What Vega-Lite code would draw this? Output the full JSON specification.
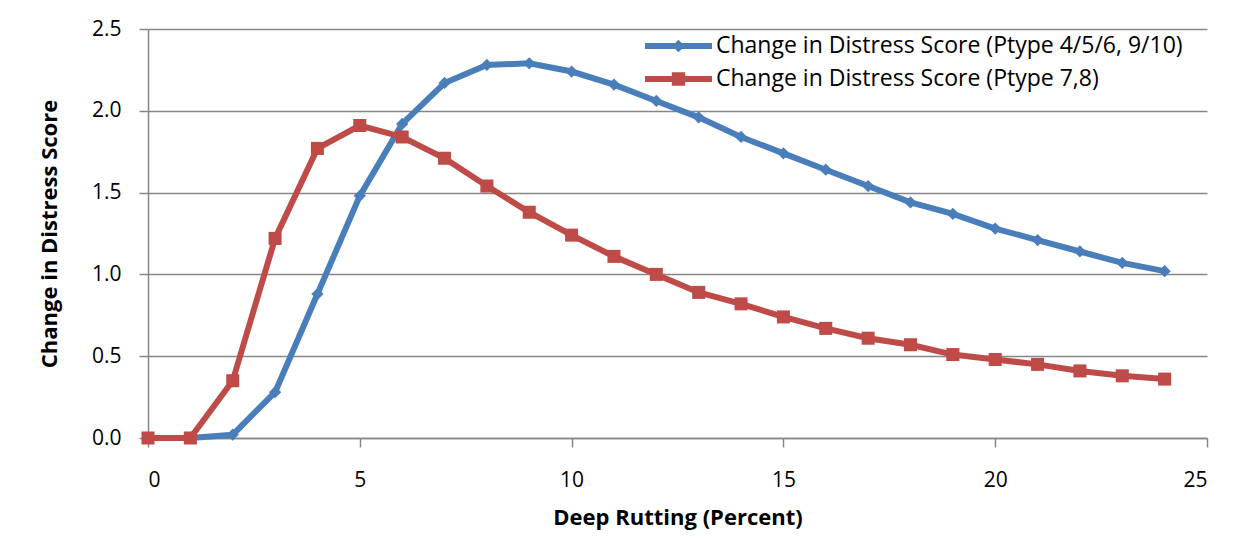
{
  "$schema": "https://vega.github.io/schema/vega-lite/v6.json",
  "width": 1059,
  "height": 409,
  "autosize": {"type": "none"},
  "padding": {"left": 148, "top": 29, "right": 47, "bottom": 100},
  "background": "white",
  "config": {
    "view": {"stroke": null},
    "font": "Open Sans",
    "axis": {
      "labelFont": "Open Sans",
      "labelFontSize": 21,
      "labelColor": "#000000",
      "titleFont": "Open Sans",
      "titleFontSize": 22,
      "titleFontWeight": "bold",
      "titleColor": "#000000",
      "domainColor": "#868686",
      "domainWidth": 1.5,
      "tickColor": "#868686",
      "tickWidth": 1.5,
      "tickSize": 9,
      "gridColor": "#868686",
      "gridWidth": 1.5,
      "gridOpacity": 1
    }
  },
  "datasets": {
    "scores": [
      {"rutting": 0, "score": 0.0, "series": "Change in Distress Score (Ptype 4/5/6, 9/10)"},
      {"rutting": 1, "score": 0.0, "series": "Change in Distress Score (Ptype 4/5/6, 9/10)"},
      {"rutting": 2, "score": 0.02, "series": "Change in Distress Score (Ptype 4/5/6, 9/10)"},
      {"rutting": 3, "score": 0.28, "series": "Change in Distress Score (Ptype 4/5/6, 9/10)"},
      {"rutting": 4, "score": 0.88, "series": "Change in Distress Score (Ptype 4/5/6, 9/10)"},
      {"rutting": 5, "score": 1.48, "series": "Change in Distress Score (Ptype 4/5/6, 9/10)"},
      {"rutting": 6, "score": 1.92, "series": "Change in Distress Score (Ptype 4/5/6, 9/10)"},
      {"rutting": 7, "score": 2.17, "series": "Change in Distress Score (Ptype 4/5/6, 9/10)"},
      {"rutting": 8, "score": 2.28, "series": "Change in Distress Score (Ptype 4/5/6, 9/10)"},
      {"rutting": 9, "score": 2.29, "series": "Change in Distress Score (Ptype 4/5/6, 9/10)"},
      {"rutting": 10, "score": 2.24, "series": "Change in Distress Score (Ptype 4/5/6, 9/10)"},
      {"rutting": 11, "score": 2.16, "series": "Change in Distress Score (Ptype 4/5/6, 9/10)"},
      {"rutting": 12, "score": 2.06, "series": "Change in Distress Score (Ptype 4/5/6, 9/10)"},
      {"rutting": 13, "score": 1.96, "series": "Change in Distress Score (Ptype 4/5/6, 9/10)"},
      {"rutting": 14, "score": 1.84, "series": "Change in Distress Score (Ptype 4/5/6, 9/10)"},
      {"rutting": 15, "score": 1.74, "series": "Change in Distress Score (Ptype 4/5/6, 9/10)"},
      {"rutting": 16, "score": 1.64, "series": "Change in Distress Score (Ptype 4/5/6, 9/10)"},
      {"rutting": 17, "score": 1.54, "series": "Change in Distress Score (Ptype 4/5/6, 9/10)"},
      {"rutting": 18, "score": 1.44, "series": "Change in Distress Score (Ptype 4/5/6, 9/10)"},
      {"rutting": 19, "score": 1.37, "series": "Change in Distress Score (Ptype 4/5/6, 9/10)"},
      {"rutting": 20, "score": 1.28, "series": "Change in Distress Score (Ptype 4/5/6, 9/10)"},
      {"rutting": 21, "score": 1.21, "series": "Change in Distress Score (Ptype 4/5/6, 9/10)"},
      {"rutting": 22, "score": 1.14, "series": "Change in Distress Score (Ptype 4/5/6, 9/10)"},
      {"rutting": 23, "score": 1.07, "series": "Change in Distress Score (Ptype 4/5/6, 9/10)"},
      {"rutting": 24, "score": 1.02, "series": "Change in Distress Score (Ptype 4/5/6, 9/10)"},
      {"rutting": 0, "score": 0.0, "series": "Change in Distress Score (Ptype 7,8)"},
      {"rutting": 1, "score": 0.0, "series": "Change in Distress Score (Ptype 7,8)"},
      {"rutting": 2, "score": 0.35, "series": "Change in Distress Score (Ptype 7,8)"},
      {"rutting": 3, "score": 1.22, "series": "Change in Distress Score (Ptype 7,8)"},
      {"rutting": 4, "score": 1.77, "series": "Change in Distress Score (Ptype 7,8)"},
      {"rutting": 5, "score": 1.91, "series": "Change in Distress Score (Ptype 7,8)"},
      {"rutting": 6, "score": 1.84, "series": "Change in Distress Score (Ptype 7,8)"},
      {"rutting": 7, "score": 1.71, "series": "Change in Distress Score (Ptype 7,8)"},
      {"rutting": 8, "score": 1.54, "series": "Change in Distress Score (Ptype 7,8)"},
      {"rutting": 9, "score": 1.38, "series": "Change in Distress Score (Ptype 7,8)"},
      {"rutting": 10, "score": 1.24, "series": "Change in Distress Score (Ptype 7,8)"},
      {"rutting": 11, "score": 1.11, "series": "Change in Distress Score (Ptype 7,8)"},
      {"rutting": 12, "score": 1.0, "series": "Change in Distress Score (Ptype 7,8)"},
      {"rutting": 13, "score": 0.89, "series": "Change in Distress Score (Ptype 7,8)"},
      {"rutting": 14, "score": 0.82, "series": "Change in Distress Score (Ptype 7,8)"},
      {"rutting": 15, "score": 0.74, "series": "Change in Distress Score (Ptype 7,8)"},
      {"rutting": 16, "score": 0.67, "series": "Change in Distress Score (Ptype 7,8)"},
      {"rutting": 17, "score": 0.61, "series": "Change in Distress Score (Ptype 7,8)"},
      {"rutting": 18, "score": 0.57, "series": "Change in Distress Score (Ptype 7,8)"},
      {"rutting": 19, "score": 0.51, "series": "Change in Distress Score (Ptype 7,8)"},
      {"rutting": 20, "score": 0.48, "series": "Change in Distress Score (Ptype 7,8)"},
      {"rutting": 21, "score": 0.45, "series": "Change in Distress Score (Ptype 7,8)"},
      {"rutting": 22, "score": 0.41, "series": "Change in Distress Score (Ptype 7,8)"},
      {"rutting": 23, "score": 0.38, "series": "Change in Distress Score (Ptype 7,8)"},
      {"rutting": 24, "score": 0.36, "series": "Change in Distress Score (Ptype 7,8)"}
    ]
  },
  "data": {"name": "scores"},
  "encoding": {
    "x": {
      "field": "rutting",
      "type": "quantitative",
      "scale": {"domain": [0, 25], "nice": false},
      "axis": {
        "title": "Deep Rutting (Percent)",
        "values": [0, 5, 10, 15, 20, 25],
        "grid": false,
        "labelPadding": 22,
        "titlePadding": 17
      }
    },
    "y": {
      "field": "score",
      "type": "quantitative",
      "scale": {"domain": [0, 2.5], "nice": false},
      "axis": {
        "title": "Change in Distress Score",
        "values": [0, 0.5, 1, 1.5, 2, 2.5],
        "format": ".1f",
        "grid": true,
        "labelPadding": 18,
        "titlePadding": 30
      }
    }
  },
  "layer": [
    {
      "mark": {"type": "line", "strokeWidth": 6},
      "encoding": {
        "color": {
          "field": "series",
          "type": "nominal",
          "scale": {
            "domain": ["Change in Distress Score (Ptype 4/5/6, 9/10)", "Change in Distress Score (Ptype 7,8)"],
            "range": ["#4A7EBB", "#BE4B48"]
          },
          "legend": {
            "title": null,
            "orient": "none",
            "legendX": 497,
            "legendY": 1.5,
            "symbolSize": 4489,
            "clipHeight": 31,
            "labelFont": "Open Sans",
            "labelFontSize": 23,
            "labelColor": "#000000",
            "labelOffset": 4,
            "labelLimit": 700,
            "rowPadding": 2,
            "encode": {
              "symbols": {
                "update": {
                  "shape": [
                    {"test": "datum.value === 'Change in Distress Score (Ptype 7,8)'", "value": "M-1,-0.09H1V0.09H-1Z M-0.2,-0.2H0.2V0.2H-0.2Z"},
                    {"value": "M-1,-0.09H1V0.09H-1Z M0,-0.19L0.19,0L0,0.19L-0.19,0Z"}
                  ],
                  "fill": {"scale": "color", "field": "value"},
                  "fillOpacity": {"value": 1},
                  "opacity": {"value": 1},
                  "strokeWidth": {"value": 0}
                }
              }
            }
          }
        }
      }
    },
    {
      "transform": [{"filter": "datum.series === 'Change in Distress Score (Ptype 4/5/6, 9/10)'"}],
      "mark": {"type": "point", "filled": true, "opacity": 1, "shape": "diamond", "size": 150},
      "encoding": {
        "color": {"field": "series", "type": "nominal", "legend": null}
      }
    },
    {
      "transform": [{"filter": "datum.series === 'Change in Distress Score (Ptype 7,8)'"}],
      "mark": {"type": "point", "filled": true, "opacity": 1, "shape": "square", "size": 170},
      "encoding": {
        "color": {"field": "series", "type": "nominal", "legend": null}
      }
    }
  ]
}
